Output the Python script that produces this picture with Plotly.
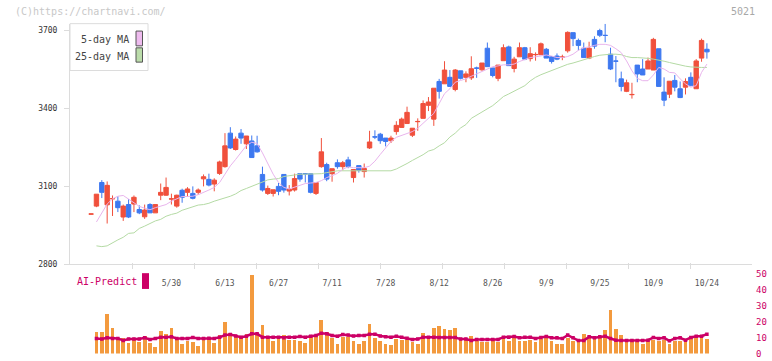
import plotly.graph_objects as go

# ---- data ----
opens = [2993, 3024, 3115, 3029, 3052, 3043, 2982, 3030, 3032, 3011, 2983, 3030, 2998, 3066, 3066, 3051,
         3024, 3085, 3077, 3073, 3077, 3129, 3127, 3109, 3150, 3176, 3305, 3242, 3305, 3264, 3275, 3256,
         3146, 3073, 3073, 3100, 3146, 3082, 3086, 3149, 3149, 3149, 3073, 3176, 3184, 3149, 3191, 3176,
         3202, 3134, 3180, 3157, 3248, 3291, 3301, 3286, 3276, 3311, 3327, 3342, 3297, 3349, 3362, 3412,
         3359, 3504, 3495, 3520, 3473, 3545, 3520, 3518, 3556, 3549, 3632, 3556, 3516, 3584, 3637, 3554,
         3599, 3634, 3592, 3607, 3607, 3628, 3599, 3602, 3597, 3622, 3692, 3662, 3632, 3594, 3666, 3700,
         3682, 3609, 3583, 3514, 3466, 3453, 3567, 3552, 3552, 3548, 3630, 3463, 3455, 3508, 3476, 3482,
         3520, 3476, 3594, 3628]
highs = [2993, 3070, 3124, 3119, 3065, 3062, 3030, 3051, 3065, 3027, 3030, 3035, 3030, 3111, 3134, 3072,
         3068, 3091, 3097, 3100, 3092, 3146, 3149, 3131, 3199, 3305, 3328, 3292, 3321, 3294, 3296, 3295,
         3176, 3103, 3087, 3113, 3146, 3105, 3149, 3149, 3150, 3149, 3115, 3286, 3191, 3168, 3204, 3198,
         3214, 3165, 3180, 3188, 3314, 3316, 3306, 3286, 3295, 3351, 3365, 3407, 3324, 3362, 3431, 3444,
         3478, 3514, 3582, 3548, 3552, 3545, 3543, 3601, 3561, 3575, 3654, 3556, 3567, 3647, 3642, 3599,
         3654, 3637, 3636, 3616, 3654, 3633, 3602, 3612, 3607, 3697, 3692, 3669, 3654, 3657, 3678, 3707,
         3726, 3634, 3602, 3542, 3511, 3499, 3567, 3590, 3596, 3672, 3630, 3520, 3505, 3529, 3504, 3516,
         3539, 3590, 3669, 3651]
lows = [2993, 3020, 3055, 2957, 2986, 3001, 2967, 2978, 3001, 2993, 2975, 2998, 2998, 3047, 3064, 3030,
        3018, 3037, 3061, 3050, 3067, 3100, 3100, 3081, 3144, 3172, 3244, 3238, 3264, 3244, 3211, 3230,
        3080, 3067, 3061, 3066, 3076, 3065, 3080, 3118, 3115, 3073, 3067, 3172, 3120, 3118, 3168, 3162,
        3170, 3115, 3153, 3134, 3244, 3282, 3264, 3254, 3267, 3299, 3327, 3342, 3290, 3314, 3362, 3390,
        3333, 3438, 3495, 3485, 3466, 3512, 3501, 3510, 3518, 3545, 3561, 3520, 3505, 3584, 3565, 3539,
        3599, 3586, 3581, 3584, 3607, 3594, 3573, 3586, 3586, 3615, 3640, 3624, 3596, 3590, 3630, 3675,
        3655, 3548, 3501, 3466, 3463, 3438, 3501, 3529, 3552, 3548, 3485, 3409, 3440, 3466, 3440, 3454,
        3485, 3476, 3580, 3592]
closes = [2994, 3070, 3077, 3104, 3053, 3018, 3024, 2982, 3058, 2998, 3009, 2998, 3030, 3077, 3096, 3052,
          3066, 3058, 3090, 3054, 3086, 3137, 3105, 3124, 3194, 3256, 3248, 3282, 3286, 3294, 3211, 3233,
          3086, 3092, 3087, 3081, 3086, 3089, 3130, 3128, 3148, 3077, 3115, 3233, 3128, 3168, 3176, 3191,
          3177, 3165, 3162, 3169, 3271, 3290, 3276, 3273, 3286, 3335, 3359, 3385, 3324, 3350, 3419, 3425,
          3478, 3466, 3548, 3485, 3548, 3516, 3533, 3553, 3555, 3575, 3561, 3527, 3567, 3634, 3565, 3590,
          3634, 3590, 3611, 3608, 3649, 3594, 3581, 3590, 3598, 3693, 3669, 3643, 3596, 3632, 3640, 3682,
          3681, 3552, 3582, 3485, 3499, 3454, 3533, 3529, 3583, 3666, 3485, 3432, 3505, 3482, 3442, 3504,
          3489, 3583, 3662, 3618]

ma5 = [None, 2963, 2995, 3032, 3052, 3062, 3065, 3052, 3039, 3023, 3016, 3010, 3018, 3023, 3030, 3043,
       3053, 3061, 3061, 3062, 3068, 3076, 3086, 3096, 3115, 3147, 3179, 3204, 3232, 3257, 3270, 3265,
       3229, 3185, 3147, 3115, 3096, 3090, 3096, 3103, 3111, 3113, 3115, 3122, 3134, 3141, 3150, 3166,
       3175, 3172, 3172, 3172, 3178, 3197, 3223, 3248, 3273, 3289, 3296, 3301, 3311, 3324, 3343, 3365,
       3381, 3419, 3457, 3476, 3501, 3508, 3514, 3524, 3533, 3541, 3552, 3561, 3564, 3568, 3568, 3571,
       3581, 3590, 3596, 3599, 3602, 3606, 3602, 3596, 3596, 3600, 3609, 3624, 3634, 3637, 3643, 3647,
       3647, 3643, 3630, 3615, 3583, 3545, 3516, 3507, 3507, 3529, 3558, 3552, 3539, 3537, 3514, 3495,
       3482, 3488, 3539, 3571]
ma25 = [None, 2871, 2868, 2871, 2884, 2894, 2904, 2919, 2921, 2938, 2947, 2957, 2967, 2973, 2985, 2992,
        2997, 3008, 3015, 3020, 3028, 3030, 3035, 3043, 3049, 3054, 3062, 3071, 3084, 3092, 3100, 3109,
        3115, 3125, 3128, 3130, 3138, 3141, 3143, 3147, 3147, 3147, 3147, 3149, 3153, 3156, 3160, 3160,
        3160, 3160, 3160, 3160, 3160, 3160, 3160, 3160, 3160, 3167, 3176, 3188, 3200, 3210, 3222, 3236,
        3242, 3256, 3268, 3290, 3305, 3325, 3338, 3362, 3375, 3387, 3398, 3411, 3428, 3446, 3456, 3466,
        3476, 3488, 3506, 3520, 3530, 3538, 3548, 3556, 3563, 3570, 3575, 3582, 3589, 3596, 3600, 3605,
        3608, 3609, 3609, 3607, 3600, 3596, 3596, 3595, 3593, 3590, 3587, 3582, 3577, 3572, 3567, 3563,
        3560, 3558, 3558, 3558]

volume = [None, 13.6, 13.6, 24.7, 16.1, 9.5, 10.0, 6.8, 8.4, 7.4, 10.9, 6.8, 4.3, 14.1, 12.2, 16.1,
          9.5, 6.1, 8.0, 7.4, 4.9, 9.5, 10.5, 6.8, 11.6, 19.9, 13.2, 10.9, 9.5, 12.0, 49.7, 11.6,
          17.8, 9.5, 8.0, 9.5, 11.6, 8.4, 8.4, 8.0, 6.8, 10.5, 10.9, 20.9, 13.6, 10.0, 5.9, 10.5,
          10.5, 8.0, 5.9, 8.0, 18.4, 9.5, 8.0, 6.3, 5.3, 9.1, 8.6, 8.4, 7.2, 6.0, 13.2, 9.5,
          16.1, 17.2, 15.3, 14.7, 16.1, 8.4, 8.4, 10.9, 7.8, 7.0, 7.0, 8.4, 7.0, 9.5, 7.8, 9.9,
          7.8, 7.8, 8.4, 7.0, 8.9, 9.5, 7.8, 6.3, 6.3, 9.5, 7.8, 7.8, 12.6, 9.5, 10.9, 9.5,
          14.7, 27.2, 15.3, 11.6, 7.0, 7.8, 7.8, 6.1, 7.8, 8.4, 7.8, 8.4, 5.9, 7.8, 7.8, 7.8,
          9.5, 9.9, 10.5, 9.1]
ai_predict = [None, 9.5, 9.1, 9.9, 9.5, 9.5, 8.2, 9.1, 9.1, 9.1, 9.9, 8.9, 9.5, 10.3, 10.3, 10.5,
              9.5, 9.5, 9.5, 10.1, 9.5, 9.5, 9.7, 9.5, 10.3, 11.6, 12.0, 11.1, 10.3, 10.9, 12.4, 12.4,
              10.3, 10.3, 10.3, 10.3, 9.9, 10.3, 10.3, 10.7, 10.3, 10.9, 11.4, 12.8, 12.4, 11.4, 10.9, 12.0,
              11.6, 11.1, 11.4, 11.4, 12.2, 12.2, 11.1, 10.5, 10.3, 10.9, 10.3, 9.7, 8.8, 9.1, 10.3, 10.3,
              10.3, 10.1, 10.1, 10.1, 10.1, 9.1, 9.1, 8.2, 8.9, 8.9, 8.9, 8.9, 8.9, 10.3, 10.3, 10.7,
              9.9, 10.3, 10.3, 9.5, 10.1, 10.7, 9.9, 9.9, 9.5, 11.6, 9.9, 8.2, 8.2, 10.5, 9.9, 10.5,
              10.9, 9.5, 8.4, 8.2, 8.2, 8.2, 8.2, 8.2, 8.4, 10.1, 9.5, 9.9, 8.0, 9.5, 9.9, 8.4,
              10.1, 10.9, 10.9, 12.2]

tick_index = [15, 25, 35, 45, 55, 65, 75, 85, 95, 105, 115]
tick_labels = ["5/30", "6/13", "6/27", "7/11", "7/28", "8/12", "8/26", "9/9", "9/25", "10/9", "10/24"]
price_ticks = [2800, 3100, 3400, 3700]
vol_ticks = [0, 10, 20, 30, 40, 50]

# ---- figure ----
W, H = 772, 361
idx = list(range(len(opens)))
FONT = "DejaVu Sans Mono"
RED, BLUE = "#f0503c", "#3d78f0"
MAG = "#cc0066"

x_lo, x_hi = -3.94, 123.42
n_sep = 11
sep_vals = [x_lo + (x_hi - x_lo) * k / n_sep for k in range(n_sep + 1)]

def px_x(p):
    return p / W

def px_y(p):
    return (H - p) / H

fig = go.Figure()
fig.add_trace(go.Scatter(x=idx, y=ma25, mode="lines", line=dict(color="#b4daa4", width=1),
                         xaxis="x", yaxis="y", hoverinfo="skip"))
fig.add_trace(go.Scatter(x=idx, y=ma5, mode="lines", line=dict(color="#e8b4ec", width=1),
                         xaxis="x", yaxis="y", hoverinfo="skip"))
fig.add_trace(go.Candlestick(
    x=idx, open=opens, high=highs, low=lows, close=closes,
    increasing=dict(line=dict(color=RED, width=1), fillcolor=RED),
    decreasing=dict(line=dict(color=BLUE, width=1), fillcolor=BLUE),
    whiskerwidth=0, xaxis="x", yaxis="y"))
fig.add_trace(go.Bar(x=idx, y=volume, width=0.7, marker=dict(color="#f39a3e", line=dict(width=0)),
                     xaxis="x2", yaxis="y2"))
fig.add_trace(go.Scatter(x=idx, y=ai_predict, mode="lines+markers",
                         line=dict(color=MAG, width=2.5),
                         marker=dict(color=MAG, size=3.5, symbol="square"),
                         xaxis="x2", yaxis="y2"))

main_bottom, main_top = 268, 24
vol_bottom, vol_top = 358.5, 267
p_per_px = 300 / 79.0
y_hi = 2800 + (main_bottom - main_top) * p_per_px
v_hi = 50 * (vol_bottom - vol_top) / 80.5

fig.update_layout(
    width=W, height=H, margin=dict(l=0, r=0, t=0, b=0),
    paper_bgcolor="white", plot_bgcolor="rgba(0,0,0,0)", showlegend=False,
    boxgap=0.18, boxgroupgap=0,
    bargap=0,
    font=dict(family=FONT, size=9, color="#444"),
    xaxis=dict(domain=[px_x(70), px_x(752)], range=[x_lo, x_hi], anchor="y",
               showline=True, linecolor="#dcdcdc", linewidth=1, showgrid=False, zeroline=False,
               tickmode="array", tickvals=tick_index, ticktext=tick_labels, ticks="",
               tickfont=dict(family=FONT, size=8, color="#555"), ticklabelstandoff=11,
               rangeslider=dict(visible=False)),
    yaxis=dict(domain=[px_y(main_bottom), px_y(main_top)], range=[2800, y_hi], anchor="x",
               showline=True, linecolor="#dcdcdc", linewidth=1, showgrid=False, zeroline=False,
               tickmode="array", tickvals=price_ticks, ticks="outside", ticklen=5, tickcolor="#dcdcdc",
               tickfont=dict(family=FONT, size=8, color="#333"), ticklabelstandoff=5),
    xaxis2=dict(domain=[px_x(70), px_x(752)], range=[x_lo, x_hi], anchor="y2", matches="x",
                side="top", showline=False, showgrid=False, zeroline=False,
                tickmode="array", tickvals=sep_vals, ticks="inside", ticklen=6, tickcolor="#dcdcdc",
                showticklabels=False),
    yaxis2=dict(domain=[px_y(vol_bottom), px_y(vol_top)], range=[0, v_hi], anchor="x2", side="right",
                showline=False, showgrid=False, zeroline=False, tickmode="array", tickvals=vol_ticks,
                ticks="", tickfont=dict(family=FONT, size=9, color=MAG), ticklabelstandoff=3),
)

annotations = [
    dict(text="(C)https://chartnavi.com/", x=px_x(13), y=px_y(12), xanchor="left", yanchor="middle",
         font=dict(family=FONT, size=10, color="#c8c8c8")),
    dict(text="5021", x=px_x(757), y=px_y(12), xanchor="right", yanchor="middle",
         font=dict(family=FONT, size=10, color="#a8a8a8")),
    dict(text="5-day MA", x=px_x(131), y=px_y(40.5), xanchor="right", yanchor="middle",
         font=dict(family=FONT, size=10, color="#444")),
    dict(text="25-day MA", x=px_x(131), y=px_y(57), xanchor="right", yanchor="middle",
         font=dict(family=FONT, size=10, color="#444")),
    dict(text="AI-Predict", x=px_x(75), y=px_y(285.5), xanchor="left", yanchor="middle",
         font=dict(family=FONT, size=10, color=MAG)),
]
for a in annotations:
    a.update(xref="paper", yref="paper", showarrow=False)
fig.update_layout(annotations=annotations)

shapes = [
    dict(type="rect", x0=px_x(70), x1=px_x(148), y0=px_y(71.5), y1=px_y(24),
         line=dict(color="#dcdcdc", width=1), fillcolor="white", layer="above"),
    dict(type="rect", x0=px_x(136), x1=px_x(142.5), y0=px_y(46.5), y1=px_y(31.5),
         line=dict(color="#555", width=1), fillcolor="#eebbee", layer="above"),
    dict(type="rect", x0=px_x(136), x1=px_x(142.5), y0=px_y(63), y1=px_y(48.5),
         line=dict(color="#555", width=1), fillcolor="#bbdcaa", layer="above"),
    dict(type="rect", x0=px_x(142), x1=px_x(149), y0=px_y(293), y1=px_y(277),
         line=dict(width=0), fillcolor=MAG, layer="above"),
]
for s in shapes:
    s.update(xref="paper", yref="paper")
fig.update_layout(shapes=shapes)

post = ("document.body.style.margin='0';document.body.style.padding='0';"
        "document.body.style.overflow='hidden';"
        "var gd=document.getElementsByClassName('plotly-graph-div')[0];"
        "Plotly.relayout(gd,{width:772,height:361});")
fig.write_html("out.html", post_script=post, config={"displayModeBar": False, "staticPlot": True})
